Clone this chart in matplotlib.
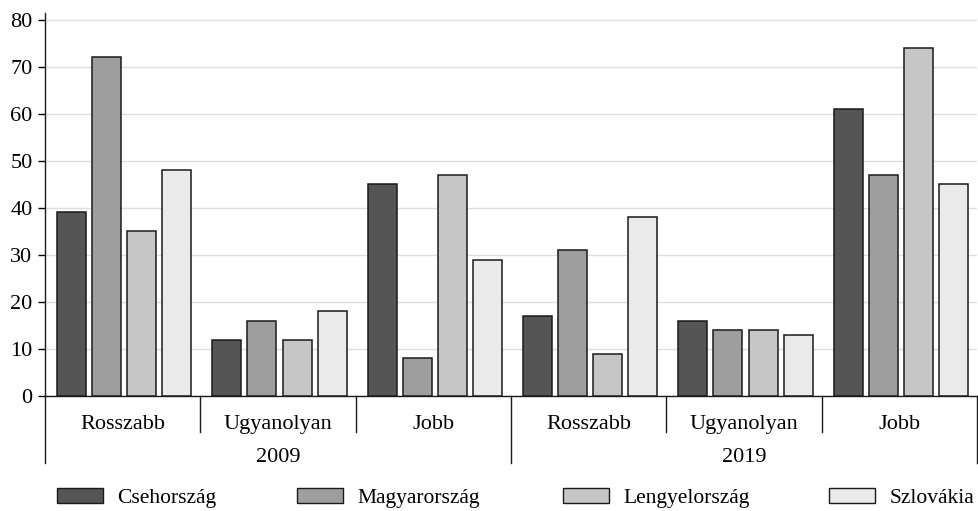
import matplotlib
matplotlib.use("Agg")
import matplotlib.pyplot as plt
from matplotlib.patches import Patch
from matplotlib.transforms import blended_transform_factory

plt.rcParams["font.family"] = ["Liberation Serif", "DejaVu Serif"]

# adatok
evek = ["2009", "2019"]
kategoriak = ["Rosszabb", "Ugyanolyan", "Jobb"]
orszagok = ["Csehország", "Magyarország", "Lengyelország", "Szlovákia"]
szinek = ["#555555", "#9e9e9e", "#c6c6c6", "#e9eae9"]

# értékek csoportonként (2009 R, U, J, 2019 R, U, J)
csehorszag = [39, 12, 45, 17, 16, 61]
magyarorszag = [72, 16, 8, 31, 14, 47]
lengyelorszag = [35, 12, 47, 9, 14, 74]
szlovakia = [48, 18, 29, 38, 13, 45]
sorozatok = [csehorszag, magyarorszag, lengyelorszag, szlovakia]

fig = plt.figure(figsize=(9.79, 5.11), dpi=100)
ax = fig.add_axes([45 / 979, 1 - 396 / 511, 932 / 979, (396 - 13) / 511])

n_csop = len(evek) * len(kategoriak)
eltolas = 12 / 155
szel = 29 / 155
lepes = 35 / 155

for i, (vals, szin) in enumerate(zip(sorozatok, szinek)):
    xs = [g + eltolas + i * lepes for g in range(n_csop)]
    ax.bar(xs, vals, width=szel, align="edge", color=szin,
           edgecolor="#1a1a1a", linewidth=1.1, zorder=3)

ax.set_xlim(0, n_csop)
ax.set_ylim(0, 81.4)
ax.set_yticks(range(0, 81, 10))
ax.yaxis.grid(True, color="#dedede", linewidth=1.0, zorder=0)
ax.set_axisbelow(True)
ax.tick_params(axis="y", labelsize=16, length=5, width=1, pad=4)
ax.set_xticks([])
for s in ["top", "right"]:
    ax.spines[s].set_visible(False)
for s in ["left", "bottom"]:
    ax.spines[s].set_linewidth(1.0)
    ax.spines[s].set_color("#1a1a1a")

# hierarchikus x tengely
tr = blended_transform_factory(ax.transData, ax.transAxes)
px = 1 / (396 - 13)
for g in range(n_csop + 1):
    hossz = 67 if g % 3 == 0 else 36
    ax.plot([g, g], [0, -hossz * px], transform=tr, color="#1a1a1a",
            linewidth=1.0, clip_on=False)
for g in range(n_csop):
    ax.text(g + 0.5, -33 * px, kategoriak[g % 3], transform=tr,
            ha="center", va="baseline", fontsize=16)
for j, ev in enumerate(evek):
    ax.text(j * 3 + 1.5, -66 * px, ev, transform=tr,
            ha="center", va="baseline", fontsize=16)

# jelmagyarázat
leg_x = [57, 297, 563, 829]
for nev, szin, x in zip(orszagok, szinek, leg_x):
    h = Patch(facecolor=szin, edgecolor="#1a1a1a", linewidth=1.0)
    fig.legend([h], [nev], loc="center left",
               bbox_to_anchor=(x / 979, 1 - 498 / 511), frameon=False,
               fontsize=15.5, borderpad=0, borderaxespad=0,
               handlelength=2.15, handleheight=0.66, handletextpad=0.65)

fig.savefig("out.png", dpi=100)
plt.close(fig)
